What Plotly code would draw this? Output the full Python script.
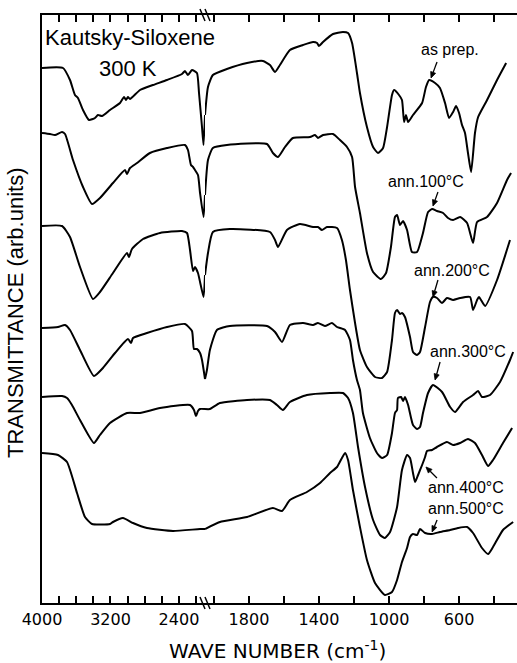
import math
import plotly.graph_objects as go

# ---- axis break: left segment 4000..2096, right segment 2051..269 (cm-1)
BREAK_HI = 2096
BREAK_LO = 2051
LO_END = 269

ticks_hi = [4000, 3800, 3600, 3400, 3200, 3000, 2800, 2600, 2400, 2200]
labels_hi = ["4000", "", "", "", "3200", "", "", "", "2400", ""]
ticks_lo = [2000, 1800, 1600, 1400, 1200, 1000, 800, 600, 400]
labels_lo = ["", "1800", "", "1400", "", "1000", "", "600", ""]

# ---- spectra (wave number in cm-1, transmittance in arb. units, offset for stacking)
wn_asprep = [4000, 3755, 3673, 3615, 3580, 3521, 3451, 3381, 3346, 3299, 3206, 3089, 3042, 3019, 2996, 2972,
             2855, 2704, 2540, 2365, 2330, 2295, 2248, 2190, 2166, 2131, 2113, 2096,
             2051, 2034, 2006, 1926, 1811, 1720, 1680, 1651, 1623, 1566, 1491, 1434, 1411, 1400, 1377, 1320,
             1263, 1234, 1211, 1183, 1166, 1126, 1091, 1063, 1034, 1011, 983, 971, 943, 926, 914, 903, 891,
             863, 811, 789, 771, 737, 709, 680, 657, 634, 617, 600, 583, 566, 549, 531, 509, 491, 440, 383, 331]
tr_asprep = [535, 535, 523, 508, 505, 493, 483, 485, 488, 487, 493, 500, 506, 503, 506, 504,
             513, 518, 523, 529, 532, 528, 533, 530, 510, 476, 458, 488,
             488, 516, 528, 534, 540, 542, 538, 531, 538, 553, 558, 561, 560, 557, 561, 569,
             571, 570, 560, 530, 510, 476, 456, 450, 455, 476, 508, 513, 508, 503, 481, 488, 481,
             488, 500, 516, 523, 520, 515, 500, 485, 491, 497, 490, 478, 470, 450, 431, 470, 486, 503, 523, 540]

wn_100 = [4000, 3907, 3848, 3766, 3731, 3638, 3521, 3416, 3323, 3171, 3031, 3007, 2972, 2890, 2739, 2540,
          2330, 2295, 2260, 2236, 2213, 2178, 2154, 2113, 2096,
          2051, 2034, 2006, 1926, 1697, 1663, 1634, 1594, 1549, 1451, 1423, 1406, 1377, 1320, 1280, 1240,
          1211, 1194, 1166, 1126, 1091, 1046, 1017, 989, 966, 954, 937, 920, 897, 869, 840, 806, 777, 754,
          726, 691, 663, 634, 594, 554, 520, 497, 440, 383, 326, 303]
tr_100 = [470, 469, 468, 471, 469, 443, 416, 399, 405, 420, 433, 429, 435, 440, 450, 455,
          458, 453, 438, 436, 433, 428, 410, 386, 408,
          408, 443, 455, 458, 459, 450, 446, 456, 465, 466, 468, 465, 468, 469, 463, 456,
          446, 416, 390, 350, 331, 324, 330, 356, 386, 388, 378, 382, 373, 351, 351, 370, 391, 394,
          392, 390, 385, 383, 386, 380, 360, 381, 386, 400, 423, 430]

wn_200 = [4000, 3766, 3673, 3556, 3404, 3323, 3171, 3007, 2984, 2949, 2820, 2622, 2365, 2306, 2271, 2236,
          2213, 2178, 2113, 2096,
          2051, 2034, 2006, 1909, 1680, 1651, 1634, 1583, 1509, 1434, 1406, 1383, 1354, 1297, 1269, 1246,
          1223, 1194, 1166, 1126, 1080, 1040, 1011, 983, 966, 954, 937, 926, 909, 880, 863, 840, 823, 794,
          766, 749, 726, 697, 669, 634, 594, 537, 520, 497, 486, 451, 383, 309]
tr_200 = [377, 377, 366, 336, 304, 311, 330, 350, 346, 354, 364, 370, 372, 370, 353, 332,
          336, 330, 306, 328,
          328, 350, 371, 374, 371, 363, 356, 373, 379, 376, 376, 373, 376, 375, 363, 343,
          313, 280, 253, 236, 226, 225, 231, 263, 290, 293, 289, 290, 286, 266, 251, 248, 251, 276,
          301, 306, 305, 300, 305, 303, 305, 306, 293, 303, 306, 297, 323, 363]

wn_300 = [4000, 3813, 3731, 3673, 3556, 3393, 3288, 3147, 2996, 2960, 2937, 2774, 2540, 2330, 2248, 2225,
          2190, 2154, 2131, 2096,
          2051, 2040, 2023, 1983, 1909, 1697, 1651, 1611, 1566, 1491, 1434, 1406, 1366, 1326, 1297, 1251,
          1223, 1206, 1183, 1166, 1149, 1109, 1069, 1040, 1011, 983, 966, 954, 949, 931, 920, 909, 891,
          863, 840, 823, 806, 777, 749, 697, 651, 623, 577, 520, 491, 469, 423, 366, 309, 291]
tr_300 = [275, 276, 278, 273, 253, 227, 235, 250, 264, 260, 265, 270, 276, 279, 272, 254,
          254, 250, 243, 224,
          224, 233, 253, 273, 277, 277, 271, 261, 278, 280, 278, 280, 277, 280, 276, 273,
          263, 243, 223, 213, 190, 165, 150, 145, 148, 170, 190, 193, 205, 206, 202, 206, 198,
          178, 174, 176, 190, 210, 218, 211, 196, 191, 201, 208, 212, 206, 208, 221, 243, 251]

wn_400 = [4000, 3766, 3708, 3650, 3556, 3393, 3323, 3206, 3007, 2855, 2622, 2271, 2225, 2201, 2178, 2154, 2096,
          2051, 2023, 1966, 1811, 1680, 1640, 1606, 1566, 1469, 1337, 1263, 1234, 1206, 1177, 1137, 1091,
          1051, 1023, 994, 954, 926, 897, 880, 863, 851, 834, 811, 794, 783, 754, 726, 669, 634, 594, 549,
          509, 469, 434, 406, 349, 297]
tr_400 = [206, 207, 205, 198, 183, 160, 168, 180, 190, 190, 195, 198, 193, 187, 192, 194, 194,
          194, 194, 200, 203, 203, 198, 193, 201, 208, 210, 210, 205, 190, 156, 116, 83,
          68, 65, 71, 96, 133, 148, 145, 130, 121, 128, 138, 146, 152, 153, 156, 161, 158, 160, 164,
          160, 148, 137, 143, 160, 175]

wn_500 = [4000, 3813, 3708, 3591, 3498, 3416, 3206, 3171, 3054, 2937, 2774, 2470, 2154, 2096,
          2051, 1966, 1811, 1663, 1611, 1566, 1469, 1394, 1337, 1297, 1251, 1234, 1206, 1166, 1126, 1080,
          1023, 983, 954, 926, 897, 880, 863, 840, 823, 794, 754, 709, 651, 606, 554, 520, 469, 434, 406,
          349, 291]
tr_500 = [150, 148, 141, 110, 86, 79, 79, 81, 85, 80, 75, 72, 74, 74,
          74, 81, 86, 95, 92, 103, 111, 120, 130, 136, 150, 143, 113, 76, 43, 20,
          8, 11, 23, 41, 55, 66, 69, 68, 74, 70, 69, 71, 73, 75, 76, 70, 55, 49, 56,
          73, 81]

series = [(wn_asprep, tr_asprep), (wn_100, tr_100), (wn_200, tr_200),
          (wn_300, tr_300), (wn_400, tr_400), (wn_500, tr_500)]

# labels: (text, paper x, paper y)
sample_labels = ["as prep.", "ann.100°C", "ann.200°C", "ann.300°C", "ann.400°C", "ann.500°C"]
label_pos = [(0.859, 0.942), (0.808, 0.716), (0.863, 0.566), (0.897, 0.427), (0.893, 0.196), (0.893, 0.160)]
# arrow heads (wave number, transmittance) and tail offsets in screen px (right, down)
arrow_heads = [(760, 525), (749, 397), (749, 306), (737, 223), (789, 136), (754, 71)]
arrow_tails = [(6, -16), (5, -14), (5, -17), (5, -18), (11, 11), (5, -12)]

W, H = 517, 663
ML, MR, MT, MB = 42, 0, 15, 60
PW = W - ML - MR
PH = H - MT - MB
D = (205 - ML) / PW  # break position as domain fraction
WN_PER_PX = (BREAK_LO - LO_END) / (PW * (1 - D))  # right-segment scale

fig = go.Figure()
line = dict(color="black", width=2, shape="spline", smoothing=0.5)
for wn, tr in series:
    pts = list(zip(wn, tr))
    hi = [p for p in pts if p[0] >= BREAK_HI]
    lo = [p for p in pts if p[0] <= BREAK_LO]
    fig.add_trace(go.Scatter(x=[p[0] for p in hi], y=[p[1] for p in hi], mode="lines",
                             line=line, xaxis="x", yaxis="y", showlegend=False, hoverinfo="skip"))
    fig.add_trace(go.Scatter(x=[p[0] for p in lo], y=[p[1] for p in lo], mode="lines",
                             line=line, xaxis="x2", yaxis="y", showlegend=False, hoverinfo="skip"))

tickfont = dict(family="DejaVu Sans", size=16, color="black")
common_x = dict(ticks="inside", ticklen=7, tickwidth=1.5, tickcolor="black", showline=True,
                linewidth=2, linecolor="black", mirror="ticks", showgrid=False, zeroline=False,
                tickfont=tickfont, anchor="y", tickmode="array", ticklabelstandoff=1)

annotations = []
for (txt, (px, py)) in zip(sample_labels, label_pos):
    annotations.append(dict(text=txt, x=px, y=py, xref="paper", yref="paper", showarrow=False,
                            xanchor="center", yanchor="middle",
                            font=dict(family="Liberation Sans", size=16, color="black")))

annotations += [
    dict(text="Kautsky-Siloxene", x=(43 - ML) / PW, y=(MT + PH - 37) / PH, xref="paper", yref="paper",
         showarrow=False, xanchor="left", yanchor="middle",
         font=dict(family="Liberation Sans", size=22, color="black")),
    dict(text="300 K", x=(128 - ML) / PW, y=(MT + PH - 68) / PH, xref="paper", yref="paper",
         showarrow=False, xanchor="center", yanchor="middle",
         font=dict(family="Liberation Sans", size=22, color="black")),
    dict(text="WAVE NUMBER (cm<sup>-1</sup>)", x=(277 - ML) / PW, y=(MT + PH - 650) / PH,
         xref="paper", yref="paper", showarrow=False, xanchor="center", yanchor="middle",
         font=dict(family="DejaVu Sans", size=20, color="black")),
    dict(text="TRANSMITTANCE (arb.units)", x=(15 - ML) / PW, y=(MT + PH - 313) / PH,
         xref="paper", yref="paper", showarrow=False, textangle=-90, xanchor="center", yanchor="middle",
         font=dict(family="Liberation Sans", size=22, color="black")),
]

shapes = []


def to_data(hx, hy, dxp, dyp):
    # screen offset (px right, px down) from head -> data coords on x2/y
    return hx - dxp * WN_PER_PX, hy - dyp


# arrows pointing to the curves (line + filled head)
for (hx, hy), (ax, ay) in zip(arrow_heads, arrow_tails):
    L = math.hypot(ax, ay)
    ux, uy = ax / L, ay / L  # unit vector head -> tail (screen)
    tx, ty = to_data(hx, hy, ax, ay)
    bx, by = ux * 6, uy * 6  # head length 6 px
    px_, py_ = -uy * 2.6, ux * 2.6  # half width
    b1 = to_data(hx, hy, bx + px_, by + py_)
    b2 = to_data(hx, hy, bx - px_, by - py_)
    bm = to_data(hx, hy, bx, by)
    shapes.append(dict(type="line", xref="x2", yref="y", x0=tx, y0=ty, x1=bm[0], y1=bm[1],
                       line=dict(color="black", width=1.3)))
    shapes.append(dict(type="path", xref="x2", yref="y",
                       path=f"M {hx},{hy} L {b1[0]:.2f},{b1[1]:.2f} L {b2[0]:.2f},{b2[1]:.2f} Z",
                       fillcolor="black", line=dict(color="black", width=0.8)))

# axis-break marks "\\" on bottom and top axes
dx, dy = 2.5 / PW, 6 / PH
for yb in (0.0, 1.0):
    for off in (-2.5, 2.5):
        xc = D + off / PW
        shapes.append(dict(type="line", xref="paper", yref="paper",
                           x0=xc - dx, y0=yb + dy, x1=xc + dx, y1=yb - dy,
                           line=dict(color="black", width=1.5)))

fig.update_layout(
    width=W, height=H,
    margin=dict(l=ML, r=MR, t=MT, b=MB, pad=0),
    paper_bgcolor="white", plot_bgcolor="white",
    xaxis=dict(domain=[0, D], range=[4000, BREAK_HI], tickvals=ticks_hi, ticktext=labels_hi, **common_x),
    xaxis2=dict(domain=[D, 1], range=[BREAK_LO, LO_END], tickvals=ticks_lo, ticktext=labels_lo, **common_x),
    yaxis=dict(range=[0, PH], showline=True, linewidth=2, linecolor="black", showticklabels=False,
               ticks="", showgrid=False, zeroline=False, anchor="x"),
    annotations=annotations,
    shapes=shapes,
    showlegend=False,
)

fig.write_html("out.html", config={"displayModeBar": False},
               post_script="document.body.style.margin='0';document.body.style.padding='0';")
